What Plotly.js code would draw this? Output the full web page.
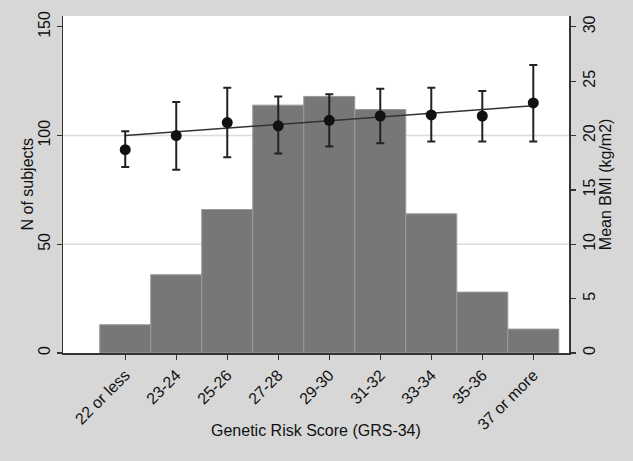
<!DOCTYPE html>
<html>
<head>
<meta charset="utf-8">
<script src="https://cdn.plot.ly/plotly-3.0.1.min.js"></script>
<style>html,body{margin:0;padding:0;background:#d7d7d7;}#chart{width:633px;height:461px;}</style>
</head>
<body>
<div id="chart"></div>
<script>
const categories = ["22 or less","23-24","25-26","27-28","29-30","31-32","33-34","35-36","37 or more"];
const nSubjects = [13, 36, 66, 114, 118, 112, 64, 28, 11];
const meanBMI = [18.7, 20.0, 21.2, 20.9, 21.4, 21.8, 21.9, 21.8, 23.0];
const ciUpper = [20.4, 23.1, 24.4, 23.6, 23.8, 24.3, 24.4, 24.1, 26.5];
const ciLower = [17.1, 16.85, 18.0, 18.35, 19.0, 19.3, 19.45, 19.45, 19.45];
const trendCats = ["22 or less", "37 or more"];
const trendBMI = [20.0, 22.75];
const gridValues = [50, 100];
const leftTicks = [0, 50, 100, 150];
const rightTicks = [0, 5, 10, 15, 20, 25, 30];
const xTitle = "Genetic Risk Score (GRS-34)";
const yTitle = "N of subjects";
const y2Title = "Mean BMI (kg/m2)";

const errPlus = ciUpper.map((u, i) => u - meanBMI[i]);
const errMinus = ciLower.map((l, i) => meanBMI[i] - l);

const font = {family: "Liberation Sans, Arial, sans-serif", color: "#111", size: 16};

const traces = [
  {
    type: "bar", x: categories, y: nSubjects, yaxis: "y",
    width: 1, marker: {color: "#777777", line: {color: "#9a9a9a", width: 1}},
    hoverinfo: "skip", showlegend: false
  },
  {
    type: "scatter", mode: "lines", x: trendCats, y: trendBMI, yaxis: "y2",
    line: {color: "#333333", width: 1.5}, showlegend: false
  },
  {
    type: "scatter", mode: "markers", x: categories, y: meanBMI, yaxis: "y2",
    marker: {color: "#111111", size: 11},
    error_y: {type: "data", symmetric: false, array: errPlus, arrayminus: errMinus,
              color: "#222222", thickness: 2, width: 4},
    showlegend: false
  }
];

const axisCommon = {
  showgrid: false, zeroline: false,
  showline: true, linecolor: "#333", linewidth: 1.5,
  ticks: "outside", ticklen: 5, tickcolor: "#333", tickwidth: 1.2,
  tickfont: {size: 16, color: "#111"}
};

const layout = {
  width: 633, height: 461,
  paper_bgcolor: "#d7d7d7", plot_bgcolor: "#ffffff",
  margin: {l: 63, r: 64, t: 16, b: 108},
  font: font,
  bargap: 0,
  xaxis: Object.assign({}, axisCommon, {
    type: "category", range: [-1.22, 8.7], tickangle: -45
  }),
  yaxis: Object.assign({}, axisCommon, {
    range: [0, 155], tickvals: leftTicks, tickangle: -90
  }),
  yaxis2: Object.assign({}, axisCommon, {
    overlaying: "y", side: "right",
    range: [0, 31], tickvals: rightTicks, tickangle: -90
  }),
  shapes: gridValues.map(v => ({
    type: "line", xref: "paper", yref: "y", x0: 0, x1: 1, y0: v, y1: v,
    line: {color: "#dcdcdc", width: 1.5}, layer: "below"
  })),
  annotations: [
    {text: xTitle, xref: "paper", yref: "paper", x: 0.5, y: -0.2285,
     xanchor: "center", yanchor: "middle", showarrow: false, font: {size: 16, color: "#111"}},
    {text: yTitle, xref: "paper", yref: "paper", x: -0.0692, y: 0.5, textangle: -90,
     xanchor: "center", yanchor: "middle", showarrow: false, font: {size: 16, color: "#111"}},
    {text: y2Title, xref: "paper", yref: "paper", x: 1.0725, y: 0.5, textangle: -90,
     xanchor: "center", yanchor: "middle", showarrow: false, font: {size: 16, color: "#111"}}
  ]
};

Plotly.newPlot("chart", traces, layout, {displayModeBar: false, staticPlot: true});
</script>
</body>
</html>
